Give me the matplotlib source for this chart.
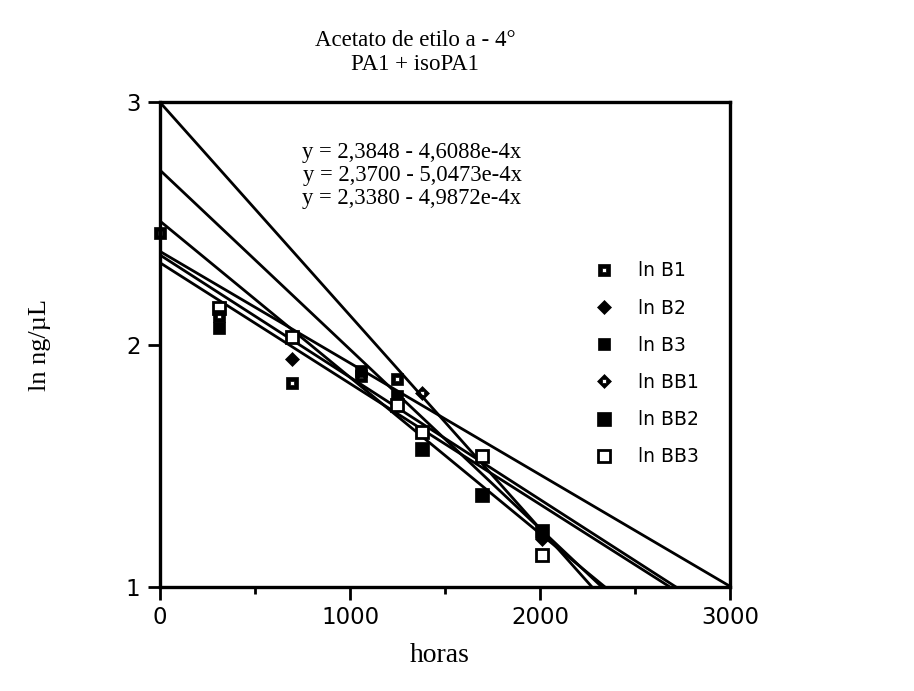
import numpy as np
import matplotlib
matplotlib.use("Agg")
import matplotlib.pyplot as plt
from matplotlib.path import Path

# ---- data -------------------------------------------------------------
series_names = ["ln B1", "ln B2", "ln B3", "ln BB1", "ln BB2", "ln BB3"]

hours_B1 = [0, 312, 696, 1056, 1248]
ln_B1 = [2.46, 2.12, 1.84, 1.87, 1.86]

hours_B2 = [696, 2010]
ln_B2 = [1.94, 1.20]

hours_B3 = [312, 1056, 1248]
ln_B3 = [2.07, 1.89, 1.79]

hours_BB1 = [1380]
ln_BB1 = [1.80]

hours_BB2 = [1380, 1692, 2010]
ln_BB2 = [1.57, 1.38, 1.23]

hours_BB3 = [312, 696, 1248, 1380, 1692, 2010]
ln_BB3 = [2.15, 2.03, 1.75, 1.64, 1.54, 1.13]

# fitted lines: intercept, slope
fit_intercepts = [2.3848, 2.3700, 2.3380, 3.00, 2.72, 2.51]
fit_slopes = [-4.6088e-4, -5.0473e-4, -4.9872e-4, -8.8e-4, -7.4e-4, -6.45e-4]

equations = ["y = 2,3848 - 4,6088e-4x",
             "y = 2,3700 - 5,0473e-4x",
             "y = 2,3380 - 4,9872e-4x"]

x_ticks = [0, 1000, 2000, 3000]
y_ticks = [1, 2, 3]


# ---- marker shapes ------------------------------------------------------
def holed_marker(outer, hole):
    verts = list(outer) + [outer[0]] + list(hole[::-1]) + [hole[0]]
    codes = ([Path.MOVETO] + [Path.LINETO] * (len(outer) - 1) + [Path.CLOSEPOLY]
             + [Path.MOVETO] + [Path.LINETO] * (len(hole) - 1) + [Path.CLOSEPOLY])
    return Path(verts, codes)


sq = [(-1, -1), (1, -1), (1, 1), (-1, 1)]
dia = [(0, -1), (1, 0), (0, 1), (-1, 0)]
dot = [(-0.28, -0.28), (0.28, -0.28), (0.28, 0.28), (-0.28, 0.28)]
square_dot = holed_marker(sq, dot)
diamond_dot = holed_marker(dia, dot)

styles = [
    dict(marker=square_dot, ms=9, mfc="black", mec="black", mew=0.5, zorder=6),
    dict(marker="D", ms=7.5, mfc="black", mec="black", mew=0.5, zorder=5),
    dict(marker="s", ms=9, mfc="black", mec="black", mew=0.5, zorder=4),
    dict(marker=diamond_dot, ms=10, mfc="black", mec="black", mew=0.5, zorder=5),
    dict(marker="s", ms=9.5, mfc="black", mec="black", mew=0.5, zorder=4),
    dict(marker="s", ms=8, mfc="white", mec="black", mew=2.0, zorder=5),
]

hours_all = [hours_B1, hours_B2, hours_B3, hours_BB1, hours_BB2, hours_BB3]
ln_all = [ln_B1, ln_B2, ln_B3, ln_BB1, ln_BB2, ln_BB3]

# ---- figure -----------------------------------------------------------
fig = plt.figure(figsize=(9.14, 6.91), dpi=100)
ax = fig.add_axes([0.175, 0.1505, 0.624, 0.7015])

xs = np.array([0.0, 3000.0])
for b0, b1 in zip(fit_intercepts, fit_slopes):
    ax.plot(xs, b0 + b1 * xs, color="black", lw=2.0, zorder=2)

for hx, hy, name, st in zip(hours_all, ln_all, series_names, styles):
    ax.plot(hx, hy, ls="none", label=name, clip_on=False, **st)

ax.set_xlim(0, 3000)
ax.set_ylim(1, 3)
ax.set_xticks(x_ticks)
ax.set_xticks([500, 1500, 2500], minor=True)
ax.set_yticks(y_ticks)
ax.set_xticklabels([str(t) for t in x_ticks], fontfamily="DejaVu Sans", fontsize=16.5)
ax.set_yticklabels([str(t) for t in y_ticks], fontfamily="DejaVu Sans", fontsize=16.5)
ax.tick_params(which="major", direction="out", length=9, width=2, pad=5)
ax.tick_params(which="minor", direction="out", length=5, width=2)
for sp in ax.spines.values():
    sp.set_linewidth(2.4)

serif = "Liberation Serif"
eq_y = [0.897, 0.848, 0.801]
for txt, yy in zip(equations, eq_y):
    ax.text(0.442, yy, txt, transform=ax.transAxes, ha="center", va="center",
            fontfamily=serif, fontsize=16.3)

fig.text(0.454, 1 - 40 / 691, "Acetato de etilo a - 4°", ha="center", va="center",
         fontfamily=serif, fontsize=16.5)
fig.text(0.454, 1 - 64 / 691, "PA1 + isoPA1", ha="center", va="center",
         fontfamily=serif, fontsize=16.5)
fig.text(40 / 914, 1 - 345 / 691, "ln ng/µL", rotation=90, ha="center", va="center",
         fontfamily=serif, fontsize=19)
fig.text(440 / 914, 1 - 655 / 691, "horas", ha="center", va="center",
         fontfamily=serif, fontsize=20)

fig.legend(loc="upper left", bbox_to_anchor=(589 / 914, 1 - 254 / 691),
           frameon=False, handlelength=0.8, handletextpad=1.4, labelspacing=0.97,
           borderaxespad=0, prop={"family": "DejaVu Sans", "size": 13.5})

fig.savefig("out.png", dpi=100)
